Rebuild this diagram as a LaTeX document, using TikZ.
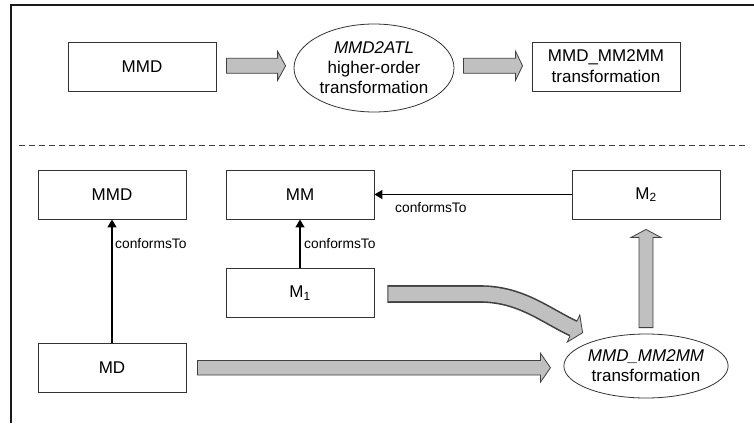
\documentclass[tikz,border=0pt]{standalone}
\usepackage{fontspec}
\setmainfont{Liberation Sans}
\usetikzlibrary{calc,shapes.geometric,arrows.meta}
\definecolor{edge}{HTML}{333333}
\definecolor{blockfill}{HTML}{C0C0C0}
\definecolor{blockedge}{HTML}{404040}
\definecolor{framecol}{HTML}{1A1A1A}

% horizontal block arrow (rightward): start, tip, half shaft, half head, head length
\newcommand{\hblock}[5]{%
  \draw[block] let \p1=(#1), \p2=(#2) in
    (\x1,\y1+#3pt) -- (\x2-#5pt,\y1+#3pt) -- (\x2-#5pt,\y1+#4pt) -- (\x2,\y1) --
    (\x2-#5pt,\y1-#4pt) -- (\x2-#5pt,\y1-#3pt) -- (\x1,\y1-#3pt) -- cycle;}
% upward block arrow: start, tip, half shaft, half head, head length
\newcommand{\vblock}[5]{%
  \draw[block] let \p1=(#1), \p2=(#2) in
    (\x1-#3pt,\y1) -- (\x1-#3pt,\y2-#5pt) -- (\x1-#4pt,\y2-#5pt) -- (\x1,\y2) --
    (\x1+#4pt,\y2-#5pt) -- (\x1+#3pt,\y2-#5pt) -- (\x1+#3pt,\y1) -- cycle;}

\begin{document}
\begin{tikzpicture}[x=1pt,y=-1pt,
  box/.style={draw=edge, line width=0.9pt, minimum width=148pt, minimum height=49pt,
    inner sep=0pt, align=center, font=\fontsize{17}{21}\selectfont},
  oval/.style={ellipse, draw=edge, line width=0.8pt, inner sep=0pt, align=center,
    font=\fontsize{17}{20}\selectfont},
  conn/.style={draw=black, line width=1.5pt, -{Triangle[length=8pt,width=9pt]}},
  lbl/.style={font=\fontsize{13.8}{15}\selectfont, inner sep=0pt, anchor=west},
  block/.style={fill=blockfill, draw=blockedge, line width=0.8pt, line join=miter},
  frame/.style={draw=framecol, line width=2.2pt},
  divider/.style={draw=blockedge, line width=0.8pt, dash pattern=on 6pt off 4pt},
]
\useasboundingbox (0,0) rectangle (754,423);

% outer frame (open at the right and at the bottom)
\draw[frame] (11,423) -- (11,5) -- (754,5);

% ---- upper part: generating the transformation ----
\node[box] (tMMD) at (142,66.5) {MMD};
\node[oval, minimum width=160pt, minimum height=88pt] (tHOT) at (374,68)
  {\itshape MMD2ATL\\higher-order\\transformation};
\node[box] (tOut) at (606,66.5) {MMD\_MM2MM\\transformation};

\coordinate (a1s) at ($(tMMD.east)+(10,-0.7)$);
\coordinate (a1t) at ($(tHOT.west)+(-8,-2.2)$);
\hblock{a1s}{a1t}{7.5}{14.5}{8}
\coordinate (a2s) at ($(tHOT.east)+(9,-2.2)$);
\coordinate (a2t) at ($(tOut.west)+(-9,-0.7)$);
\hblock{a2s}{a2t}{7.5}{14.5}{7}

% divider
\coordinate (divL) at (19,145);
\coordinate (divR) at (745,145);
\draw[divider] (divL) -- (divR);

% ---- lower part: using the transformation ----
\node[box] (bMMD) at (112,194.5) {MMD};
\node[box] (bMM) at (300,194.5) {MM};
\node[box] (bM2) at (646,194.5) {M\textsubscript{2}};
\node[box] (bM1) at (300,293) {M\textsubscript{1}};
\node[box] (bMD) at (112,367.5) {MD};
\node[oval, minimum width=159pt, minimum height=64pt] (bT) at (646,366)
  {\itshape MMD\_MM2MM\\transformation};

% conformance links
\draw[conn] (bMD) -- (bMMD);
\draw[conn] (bM1) -- (bMM);
\draw[conn] (bM2) -- (bMM);
\node[lbl] (c1) at (115,244) {conformsTo};
\node[lbl] (c2) at (304,244) {conformsTo};
\node[lbl] (c3) at (395,208) {conformsTo};

% MD into the transformation
\coordinate (a3s) at ($(bMD.east)+(11,0.2)$);
\coordinate (a3t) at ($(bT.west)+(-13,1.7)$);
\hblock{a3s}{a3t}{7.3}{14.5}{10}

% transformation output up to M2
\coordinate (a4s) at ($(bT.north)+(0,-6)$);
\coordinate (a4t) at ($(bM2.south)+(0,10)$);
\vblock{a4s}{a4t}{7}{15}{8}

% M1 into the transformation: curved band with head
\coordinate (a5s) at ($(bM1.east)+(13,1)$);
\coordinate (a5e) at (573.5,328.5);
\draw[draw=blockedge, line width=17.6pt]
  (a5s) -- ++(93,0) .. controls +(40,0) and ($(a5e)+(-28.5,-13.5)$) .. (a5e);
\draw[draw=blockfill, line width=14.4pt, shorten <=0.8pt]
  (a5s) -- ++(93,0) .. controls +(40,0) and ($(a5e)+(-28.5,-13.5)$) .. (a5e);
\fill[blockfill] ($(a5e)+(6.3,-13.6)$) -- ($(a5e)+(9.1,4.2)$) -- ($(a5e)+(-6.3,13.6)$) -- cycle;
\draw[draw=blockedge, line width=0.8pt, line join=miter]
  ($(a5e)+(3.4,-7.25)$) -- ($(a5e)+(6.3,-13.6)$) -- ($(a5e)+(9.1,4.2)$) --
  ($(a5e)+(-6.3,13.6)$) -- ($(a5e)+(-3.4,7.25)$);
\end{tikzpicture}
\end{document}
